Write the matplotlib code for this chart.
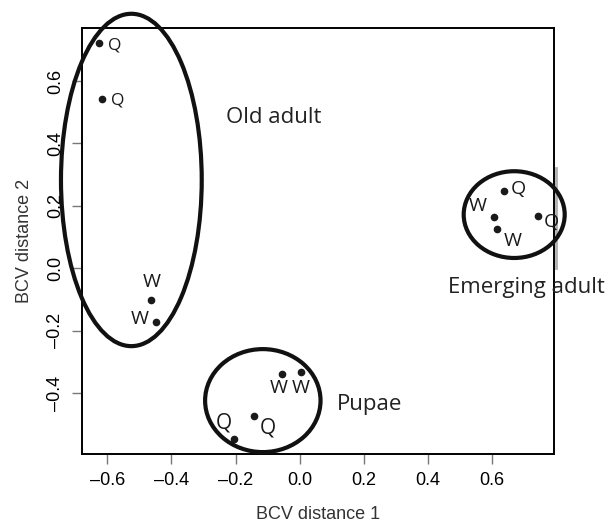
import matplotlib
matplotlib.use("Agg")
import matplotlib.pyplot as plt
from matplotlib.patches import Ellipse

# sample points (BCV distance 1 / 2) and caste labels
bcv1 = [-0.625, -0.616, -0.465, -0.448, -0.054, 0.005, -0.142, -0.204, 0.637, 0.743, 0.606, 0.615]
bcv2 = [0.721, 0.542, -0.102, -0.172, -0.339, -0.331, -0.473, -0.548, 0.249, 0.168, 0.163, 0.126]
caste = ["Q", "Q", "W", "W", "W", "W", "Q", "Q", "Q", "Q", "W", "W"]

# groups drawn as ellipses
group_names = ["Old adult", "Pupae", "Emerging adult"]
group_cx = [-0.525, -0.115, 0.669]
group_cy = [0.283, -0.424, 0.172]
group_w = [0.439, 0.360, 0.315]
group_h = [1.065, 0.330, 0.278]

xticks = [-0.6, -0.4, -0.2, 0.0, 0.2, 0.4, 0.6]
yticks = [-0.4, -0.2, 0.0, 0.2, 0.4, 0.6]

# label placement (pixels from each point) and size, style only
lab_off = [(15, -2), (16, -1), (1, 18), (-16, 3), (-4, -14), (-1, -16),
           (14, -12), (-10, 16), (14, 2), (13, -6), (-16, 11), (16, -12)]
lab_size = [12.5, 12.5, 14, 14, 14, 14, 15, 15, 14, 14, 14, 14]
group_text_xy = [(-0.230, 0.482), (0.115, -0.435), (0.463, -0.063)]

fig = plt.figure(figsize=(6.16, 5.23), dpi=100)
ax = fig.add_axes([0.1336, 0.1314, 0.7662, 0.8157])

ax.plot(bcv1, bcv2, 'o', color='#1a1a1a', markersize=4.5, zorder=3)
for x, y, c, off, fs in zip(bcv1, bcv2, caste, lab_off, lab_size):
    ax.annotate(c, (x, y), xytext=off, textcoords='offset pixels',
                ha='center', va='center', fontsize=fs, family='Open Sans',
                color='#1a1a1a', annotation_clip=False)

for cx, cy, w, h in zip(group_cx, group_cy, group_w, group_h):
    ax.add_patch(Ellipse((cx, cy), w, h, fill=False, lw=3, color='#111111',
                         clip_on=False, zorder=4))

for name, (tx, ty) in zip(group_names, group_text_xy):
    ax.text(tx, ty, name, ha='left', va='center', fontsize=16,
            family='Open Sans', color='#222222', clip_on=False)

# faint grey stroke next to right edge
ax.plot([0.80, 0.80], [0.32, 0.0], color='#b0b0b0', lw=2, clip_on=False, zorder=1)

ax.set_xlim(-0.678, 0.794)
ax.set_ylim(-0.596, 0.771)
ax.set_xticks(xticks)
ax.set_yticks(yticks)
ax.set_xticklabels([f"{t:.1f}".replace('-', '\u2013') for t in xticks],
                   family='Liberation Sans', fontsize=13)
ax.set_yticklabels([f"{t:.1f}".replace('-', '\u2013') for t in yticks],
                   family='Liberation Sans', fontsize=13, rotation=90, va='center')
ax.tick_params(length=7, width=1, color='#777777', pad=6)
for s in ax.spines.values():
    s.set_linewidth(1.4)

ax.set_xlabel('BCV distance 1', family='Liberation Sans', fontsize=13, color='#333333', labelpad=12)
ax.set_ylabel('BCV distance 2', family='Liberation Sans', fontsize=13, color='#333333', labelpad=10)

fig.savefig('out.png', dpi=100)
